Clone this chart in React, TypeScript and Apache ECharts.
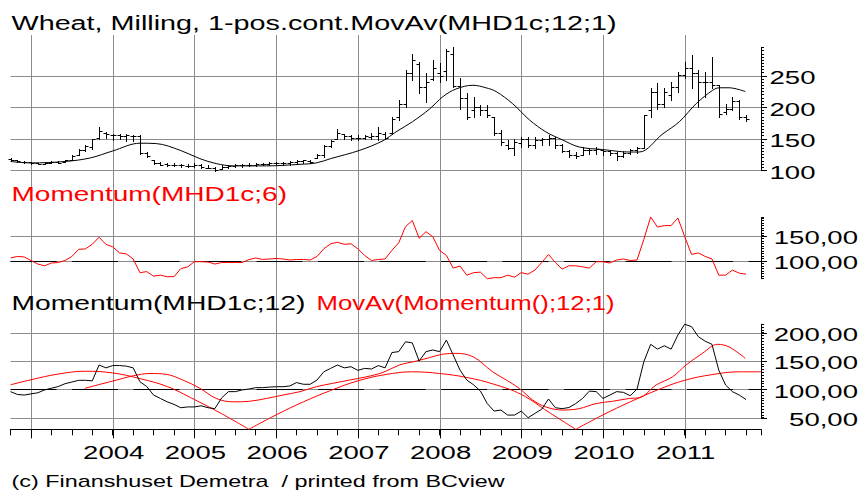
import { useEffect, useRef } from 'react';
import * as echarts from 'echarts';

// x values are months counted from Jan 2003 (= 0); data run Oct 2002 .. Oct 2011
const FIRST_MONTH = -3;
const X_MIN = -3;
const X_MAX = 107.2;

// ---- Panel 1: monthly OHLC bars of Wheat, Milling ----
const priceOpen = [118,116,113,113,111,110,112,113,113,116,124,132,137,152,160,156,156,155,155,154,127,117,111,110,109,108,107,107,109,104,104,102,106,107,108,108,109,110,110,111,111,112,113,114,115,119,125,138,150,158,155,152,151,153,155,158,159,184,205,255,268,232,245,255,258,285,234,215,195,200,196,185,160,140,136,144,150,140,148,150,152,140,130,124,124,132,133,133,131,127,122,128,133,135,195,225,205,220,232,252,262,255,240,240,235,192,198,210,184];
const priceHigh = [119,116,114,113,112,113,114,114,117,124,134,140,150,168,161,157,158,158,156,156,129,117,113,112,111.5,110,110,112,110,108,105,108,109,110,110,111,111,112,113,113,113,115,116,117,117,126,140,148,166,158,156,156,156,159,169,161,185,211,259,285,272,254,275,270,293,296,246,222,217,203,203,185,164,148,150,153,153,153,151,156,153,142,132,129,137,134,137,134,132,129,130,134,137,187,230,238,230,240,256,272,283,259,256,280,235,206,217,211,187];
const priceLow = [115,113,112,110,109.5,110,111,111,113,116,124,130,134,150,152,148,149,147,146,126,121,110,108,107,107,106,105,106,104,103,99,102,104,106,106,107,107,108,108,108,108,108,110,111,111,119,121,137,150,150,148,148,149,149,148,150,158,180,200,243,222,209,243,240,243,232,198,182,185,187,185,156,140,134,124,137,137,135,140,140,135,129,121,119,124,126,126,124,124,116,121,126,127,135,185,198,200,211,225,246,230,200,216,230,185,190,195,182,179];
const priceClose = [116,114,113,111,110,112,113,112,116,123,133,139,149,163,158,156,155,156,154,127,122,112,109,109,108,108,107,109,105,104,101,106,107,108,108,109,110,110,111,111,112,113,114,116,113,125,138,146,160,155,152,151,154,155,160,152,182,205,255,275,232,240,262,250,290,234,215,185,200,195,187,160,145,136,145,150,140,148,150,152,140,131,124,122,132,133,134,131,127,122,128,133,135,187,225,205,225,232,252,262,255,240,240,235,190,198,210,185,182];
// 12-month moving average of the close, [month, value]
const priceMA12 = [[-3,114],[0,111.7],[5,114],[8.7,119.6],[12,130.7],[16,143],[18.4,142.4],[21.9,131.8],[24.8,118.5],[27.2,110.6],[29.7,107],[34.6,107],[39.5,109.5],[41.9,111.7],[44,118.5],[48.3,131.8],[51.7,147],[53.6,161],[56,177],[58.5,197],[60.5,217],[62.4,229],[64.9,235],[66.8,231],[68.3,225],[70.7,206],[73.2,180],[75.6,161],[78.1,148],[80.5,137],[83.9,133],[87.9,129],[89.3,129],[92.8,158],[95.2,177],[97.7,206],[100.1,227],[101.1,231],[102.5,231],[104.9,225]];

// ---- Panel 2: Momentum(MHD1c;6), monthly ----
const momentum6 = [106,109,108,101,94,90.5,96,97,101,109,123,124,133,147,133,128,116,114,104,77,79,70,72,69,69,85,88.5,98.6,98.6,98,94,97,97,97,97,102.7,106,103,104,105,104,102,103,103,102,109,124,134,137,133,134,124,111,101,103,104,121,136,168,180,145,158,148,121,111,86,90,72,77,78,65,67,67,72,68,77,74,82,97,113,97,84,90.5,90.5,88.5,86,98.6,98.6,96,102,104,101,102,143,187,167,170,170,185,148,113,116,109,104,72,72,82,76,74];

// ---- Panel 3: Momentum(MHD1c;12), monthly, and its moving average ----
const momentum12 = [96,91,90,92,94,99,102,105,110,113,116,116,115,143,138,142,142,141,138,113.5,105,90,84,78,73.5,67.6,69,69,71,67.6,66,85,96,96,99,100.6,103,103,104,104.7,104.7,106,112,109,109,116.5,131,137,143,138,140,133.6,137,136,142,138,165,166.6,184,182,150,166.6,169.5,166.6,187,160.7,134,116.5,108,97,75,61.7,63.5,54.6,54.6,61.7,50,57.6,65,83,67.6,66,68,75,84,97,96,84,90,96,94.7,88.8,100.6,149,179.5,171,177,171,196,215,210.7,193,185,179.5,134,107.7,96,90,82];
const momentumMA = [[7.9,101.8],[10.1,108.8],[12.6,116.5],[15,124],[17.5,128],[19.9,126.5],[22.3,116.5],[24.8,102],[27.2,84],[29.7,78],[32.1,79],[34.6,84],[37,90],[39.5,96],[41.9,104.7],[44.3,110.6],[46.8,116.5],[49.2,122],[51.7,130],[54.1,143],[56.6,150],[58.5,156],[60.4,162],[62.4,163.6],[64.9,157.7],[67.8,131],[69.8,116.5],[71.7,101.8],[73.7,81],[75.6,69],[78.1,63.5],[80.5,66],[83,75],[85.4,79],[87.9,84],[89.3,85],[91.8,107.7],[94.2,122],[96.2,143],[98.6,163.6],[100.8,179.5],[102.5,175],[104.9,154.8]];
// cycle line (three arches between its sharp lows)
const cycleArc1 = [[-3,108],[0,117],[4,127],[8,132],[12,129],[16,119],[20,105],[24,82],[28,57],[32,29.5]];
const cycleArc2 = [[32,29.5],[36,55],[40,78],[44,98],[48,115],[52,126],[56,131],[60,128],[64,121],[68,109],[72,91],[76,60],[80,29.5]];
const cycleArc3 = [[80,29.5],[84,55],[88,78],[92,99],[96,116],[100,126],[104,131],[107.2,131]];

// ---- ticks / labels ----
const yearTicks = [0,12,24,36,48,60,72,84,96];
const yearLabels = ['','2004','2005','2006','2007','2008','2009','2010','2011'];
const p1Ticks = [100,150,200,250];
const p1Labels = ['100','150','200','250'];
const p2Ticks = [100,150];
const p2Labels = ['100,00','150,00'];
const p3Ticks = [50,100,150,200];
const p3Labels = ['50,00','100,00','150,00','200,00'];

const TITLE_MAIN = 'Wheat, Milling, 1-pos.cont.MovAv(MHD1c;12;1)';
const TITLE_MOM6 = 'Momentum(MHD1c;6)';
const TITLE_MOM12 = 'Momentum(MHD1c;12)';
const TITLE_MOMMA = 'MovAv(Momentum();12;1)';
const FOOTER = '(c) Finanshuset Demetra  / printed from BCview';

const GREY = '#8c8c8c';
const RED = '#ff0000';
const FONT = '"Liberation Sans", Arial, Helvetica, sans-serif';
const LEFT = 10.56;
const RIGHT = 102;

function yDecor(axisIndex: number, ticks: number[], labels: string[], dashed100: boolean, align: string, dx: number) {
  return {
    type: 'custom',
    xAxisIndex: axisIndex,
    yAxisIndex: axisIndex,
    z: 1,
    silent: true,
    clip: false,
    data: ticks.map((t) => [X_MAX, t]),
    encode: { x: 0, y: 1 },
    renderItem: (params: any, api: any) => {
      const v = api.value(1);
      const pr = api.coord([X_MAX, v]);
      const pl = api.coord([X_MIN, v]);
      const y = Math.round(pr[1]) + 0.5;
      const children: any[] = [
        { type: 'line', shape: { x1: pl[0], y1: y, x2: pr[0], y2: y }, style: { stroke: GREY, lineWidth: 1 } },
      ];
      if (dashed100 && v === 100) {
        children.push({ type: 'line', shape: { x1: pl[0], y1: y, x2: pr[0], y2: y }, style: { stroke: '#000', lineWidth: 1, lineDash: [46, 15.5] } });
      }
      children.push({ type: 'line', shape: { x1: pr[0], y1: y, x2: pr[0] + 6, y2: y }, style: { stroke: '#000', lineWidth: 1 } });
      children.push({
        type: 'text',
        x: pr[0] + dx,
        y: pr[1] + 2,
        scaleX: 1.45,
        style: { text: labels[params.dataIndex], fill: '#000', font: '19px ' + FONT, align, textAlign: align, verticalAlign: 'middle', textVerticalAlign: 'middle' },
      });
      return { type: 'group', children };
    },
  };
}

function buildOption() {
  const k1 = 31.5 / 50;
  const k2 = 25.3 / 50;
  const k3 = 28.33 / 50;
  const p3Top = 417.7 - 165 * k3;
  const grid = [
    { left: LEFT, right: RIGHT, top: 170.3 - 195 * k1, height: 195 * k1 },
    { left: LEFT, right: RIGHT, top: 261 - 86 * k2, height: 121 * k2 },
    { left: LEFT, right: RIGHT, top: p3Top, height: (215 - 29.5) * k3 },
    { left: LEFT, right: RIGHT, top: p3Top, height: 165 * k3 },
    { left: LEFT, right: RIGHT, top: 35, height: 429.3 - 35 },
  ];
  const hiddenX = (g: number) => ({ type: 'value', gridIndex: g, min: X_MIN, max: X_MAX, show: false });
  const visY = (g: number, min: number, max: number) => ({
    type: 'value', gridIndex: g, position: 'right', min, max, interval: 5,
    axisLine: { show: true, onZero: false, lineStyle: { color: '#000', width: 1 } },
    axisTick: { show: true, inside: false, length: 3, lineStyle: { color: '#000', width: 1 } },
    axisLabel: { show: false }, splitLine: { show: false },
  });
  const xAxis = [
    hiddenX(0), hiddenX(1),
    {
      type: 'value', gridIndex: 2, min: X_MIN, max: X_MAX, interval: 3, position: 'bottom',
      axisLine: { show: true, onZero: false, lineStyle: { color: '#000', width: 1 } },
      axisTick: { show: true, length: 6, inside: false, lineStyle: { color: '#000', width: 1 } },
      axisLabel: { show: false }, splitLine: { show: false },
    },
    hiddenX(3), hiddenX(4),
  ];
  const yAxis = [
    visY(0, 100, 295),
    visY(1, 65, 186),
    { type: 'value', gridIndex: 2, min: 29.5, max: 215, show: false },
    visY(3, 50, 215),
    { type: 'value', gridIndex: 4, min: 0, max: 1, show: false },
  ];
  const monthly = (arr: number[]) => arr.map((v, i) => [FIRST_MONTH + i, v]);
  const lineS = (axis: number, data: any[], color: string, smooth: any, z = 3) => ({
    type: 'line', xAxisIndex: axis, yAxisIndex: axis, data, symbol: 'none', smooth, clip: false, z,
    lineStyle: { color, width: 1 }, silent: true,
  });
  const ohlc = priceOpen.map((o, i) => [FIRST_MONTH + i, o, priceHigh[i], priceLow[i], priceClose[i]]);

  const series: any[] = [
    // vertical year lines across all panels
    {
      type: 'custom', xAxisIndex: 4, yAxisIndex: 4, z: 0, silent: true, clip: false,
      data: yearTicks.map((t) => [t, 0]), encode: { x: 0, y: 1 },
      renderItem: (params: any, api: any) => {
        const v = api.value(0);
        const pb = api.coord([v, 0]);
        const pt = api.coord([v, 1]);
        const x = Math.round(pb[0]) + 0.5;
        return { type: 'line', shape: { x1: x, y1: pt[1], x2: x, y2: pb[1] }, style: { stroke: GREY, lineWidth: 1 } };
      },
    },
    yDecor(0, p1Ticks, p1Labels, false, 'left', 8.5),
    yDecor(1, p2Ticks, p2Labels, true, 'right', 97),
    yDecor(3, p3Ticks, p3Labels, true, 'right', 97),
    // OHLC bars
    {
      type: 'custom', xAxisIndex: 0, yAxisIndex: 0, z: 3, silent: true, clip: false,
      data: ohlc, encode: { x: 0, y: [1, 2, 3, 4] },
      renderItem: (params: any, api: any) => {
        const x = api.value(0);
        const ph = api.coord([x, api.value(2)]);
        const pl = api.coord([x, api.value(3)]);
        const po = api.coord([x, api.value(1)]);
        const pc = api.coord([x, api.value(4)]);
        const px = Math.round(ph[0]) + 0.5;
        const yo = Math.round(po[1]) + 0.5;
        const yc = Math.round(pc[1]) + 0.5;
        const st = { stroke: '#000', lineWidth: 1 };
        return {
          type: 'group',
          children: [
            { type: 'line', shape: { x1: px, y1: Math.round(ph[1]), x2: px, y2: Math.round(pl[1]) + 1 }, style: st },
            { type: 'line', shape: { x1: px - 3, y1: yo, x2: px, y2: yo }, style: st },
            { type: 'line', shape: { x1: px, y1: yc, x2: px + 3, y2: yc }, style: st },
          ],
        };
      },
    },
    lineS(0, priceMA12, '#000', 0.35),
    lineS(1, monthly(momentum6), RED, false),
    lineS(2, cycleArc1, RED, 0.4),
    lineS(2, cycleArc2, RED, 0.4),
    lineS(2, cycleArc3, RED, 0.4),
    lineS(2, momentumMA, RED, 0.35),
    lineS(2, monthly(momentum12), '#000', false, 4),
    // year ticks and labels on the bottom axis
    {
      type: 'custom', xAxisIndex: 2, yAxisIndex: 2, z: 5, silent: true, clip: false,
      data: yearTicks.map((t) => [t, 29.5]), encode: { x: 0, y: 1 },
      renderItem: (params: any, api: any) => {
        const v = api.value(0);
        const p = api.coord([v, 29.5]);
        const x = Math.round(p[0]) + 0.5;
        return {
          type: 'group',
          children: [
            { type: 'line', shape: { x1: x, y1: p[1], x2: x, y2: p[1] + 9 }, style: { stroke: '#000', lineWidth: 1 } },
            {
              type: 'text', x: p[0] + 1, y: p[1] + 23, scaleX: 1.45,
              style: { text: yearLabels[params.dataIndex], fill: '#000', font: '19px ' + FONT, align: 'center', textAlign: 'center', verticalAlign: 'middle', textVerticalAlign: 'middle' },
            },
          ],
        };
      },
    },
  ];

  const txt = (text: string, x: number, y: number, size: number, sx: number, fill: string) => ({
    type: 'text', x, y, scaleX: sx, silent: true, z: 10,
    style: { text, fill, font: size + 'px ' + FONT, verticalAlign: 'middle', textVerticalAlign: 'middle' },
  });
  const graphic = [
    txt(TITLE_MAIN, 11.5, 22.5, 21, 1.37, '#000'),
    txt(TITLE_MOM6, 11.5, 194.2, 21, 1.335, RED),
    txt(TITLE_MOM12, 11.5, 302.5, 21, 1.347, '#000'),
    txt(TITLE_MOMMA, 316.5, 302.5, 21, 1.225, RED),
    txt(FOOTER, 11.5, 481, 16, 1.46, '#000'),
  ];

  return { animation: false, backgroundColor: '#ffffff', grid, xAxis, yAxis, series, graphic };
}

export default function App() {
  const ref = useRef<HTMLDivElement>(null);
  useEffect(() => {
    const chart = echarts.init(ref.current as HTMLDivElement, null, { renderer: 'svg' });
    chart.setOption(buildOption() as any);
    return () => chart.dispose();
  }, []);
  return <div ref={ref} style={{ position: 'fixed', left: 0, top: 0, width: 863, height: 492, background: '#fff' }} />;
}
